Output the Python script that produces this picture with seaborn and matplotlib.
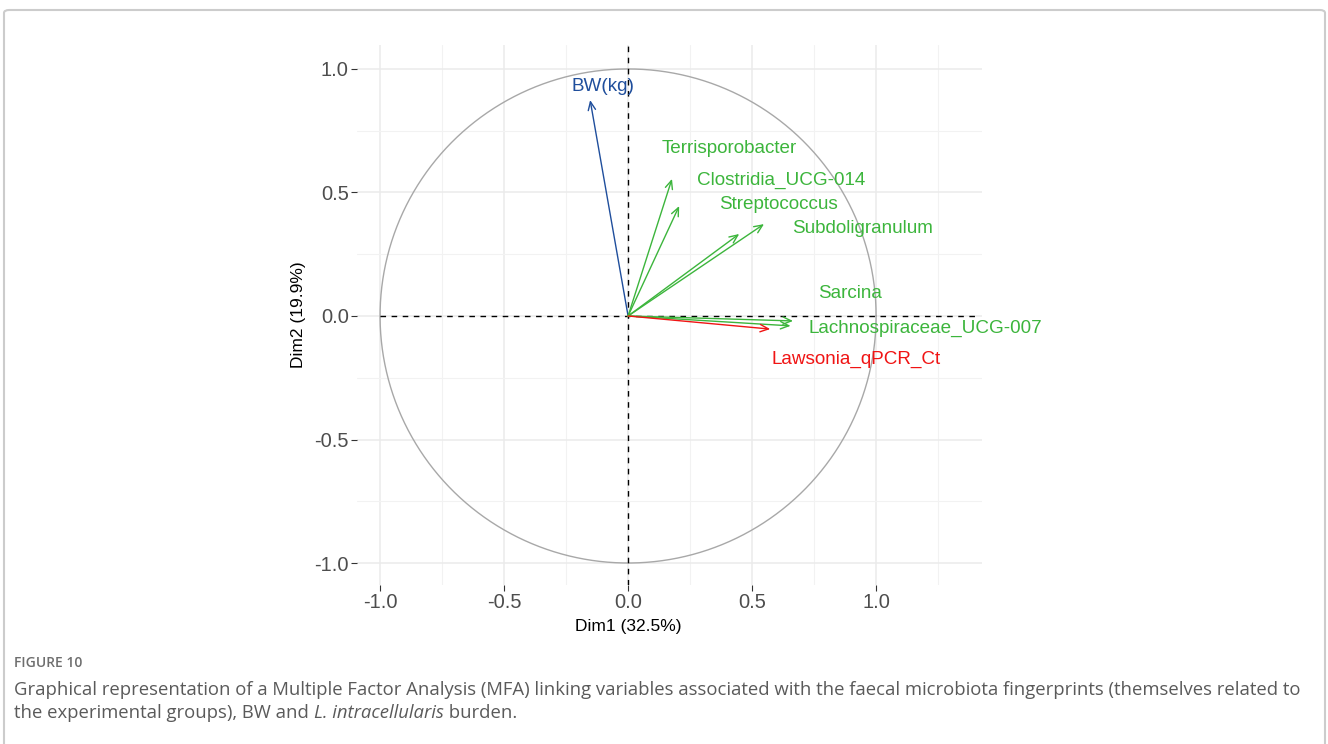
import numpy as np
import matplotlib
matplotlib.use("Agg")
import matplotlib.pyplot as plt
import seaborn as sns
from matplotlib.patches import FancyBboxPatch

# ---- data (MFA variable coordinates) ----
variables = ["BW(kg)", "Terrisporobacter", "Clostridia_UCG-014", "Streptococcus",
             "Subdoligranulum", "Sarcina", "Lachnospiraceae_UCG-007", "Lawsonia_qPCR_Ct"]
dim1 = [-0.153, 0.177, 0.206, 0.448, 0.548, 0.665, 0.655, 0.573]
dim2 = [0.874, 0.555, 0.445, 0.332, 0.372, -0.020, -0.040, -0.053]
groups = ["BW", "Microbiota", "Microbiota", "Microbiota", "Microbiota",
          "Microbiota", "Microbiota", "Lawsonia"]
dim1_label = "Dim1 (32.5%)"
dim2_label = "Dim2 (19.9%)"
x_ticks = [-1.0, -0.5, 0.0, 0.5, 1.0]
y_ticks = [-1.0, -0.5, 0.0, 0.5, 1.0]

# ---- styling ----
palette = {"BW": "#1f4e9c", "Microbiota": "#3cb53c", "Lawsonia": "#f01414"}
# label offsets (points) from arrow tips, mimicking repelled labels
label_offsets = [(9, 10), (41, 22), (73.5, 18.5), (28, 21.5), (71, -3), (41, 20), (97, -2), (62, -22)]

sns.set_theme(style="whitegrid")
plt.rcParams["font.family"] = ["Liberation Sans", "DejaVu Sans"]

W, H = 1328, 744
fig = plt.figure(figsize=(W / 100, H / 100), dpi=100)

# panel placement in pixels
px_l, px_r, px_t, px_b = 357, 982, 45, 585
ax = fig.add_axes([px_l / W, 1 - px_b / H, (px_r - px_l) / W, (px_b - px_t) / H])
ax.set_xlim(-1.093, 1.427)
ax.set_ylim(-1.089, 1.097)

ax.set_facecolor("white")
for s in ax.spines.values():
    s.set_visible(False)

ax.set_xticks(x_ticks)
ax.set_yticks(y_ticks)
ax.set_xticks([-0.75, -0.25, 0.25, 0.75, 1.25], minor=True)
ax.set_yticks([-0.75, -0.25, 0.25, 0.75], minor=True)
ax.grid(which="major", color="#ebebeb", linewidth=1.1)
ax.grid(which="minor", color="#f2f2f2", linewidth=0.8)
ax.tick_params(axis="both", which="major", length=4, width=0.8, color="#333333",
               labelsize=14.5, labelcolor="#4d4d4d", pad=2, direction="out",
               bottom=True, left=True)
ax.tick_params(axis="both", which="minor", length=0)
ax.xaxis.set_major_formatter(matplotlib.ticker.FormatStrFormatter("%.1f"))
ax.yaxis.set_major_formatter(matplotlib.ticker.FormatStrFormatter("%.1f"))

ax.set_xlabel(dim1_label, fontsize=12.5, color="black")
ax.set_ylabel(dim2_label, fontsize=12.5, color="black")
ax.xaxis.set_label_coords((628 - px_l) / (px_r - px_l), -(627 - px_b) / (px_b - px_t))
ax.yaxis.set_label_coords(-(px_l - 298) / (px_r - px_l), 0.5)
ax.xaxis.label.set_va("center")
ax.yaxis.label.set_va("center")

# correlation circle
theta = np.linspace(0, 2 * np.pi, 400)
sns.lineplot(x=np.cos(theta), y=np.sin(theta), sort=False, color="#a8a8a8",
             linewidth=1.0, ax=ax, estimator=None)

# reference lines
ax.plot([-1.0, 1.41], [0, 0], linestyle=(0, (4, 4)), color="black", linewidth=1.0, zorder=2)
ax.axvline(0, linestyle=(0, (4, 4)), color="black", linewidth=1.0, zorder=2)

# arrows and labels
for name, x, y, g, off in zip(variables, dim1, dim2, groups, label_offsets):
    c = palette[g]
    ax.annotate("", xy=(x, y), xytext=(0, 0),
                arrowprops=dict(arrowstyle="->,head_length=0.5,head_width=0.22",
                                color=c, lw=1.0, shrinkA=0, shrinkB=0), zorder=3)
    ax.annotate(name, xy=(x, y), xytext=off, textcoords="offset points",
                ha="center", va="center", fontsize=13.6, color=c, zorder=4)

# figure border
border = FancyBboxPatch((4 / W, -0.05), (W - 7) / W, 1 - 10 / H + 0.05,
                        boxstyle="round,pad=0,rounding_size=0.004",
                        transform=fig.transFigure, fill=False,
                        edgecolor="#cccccc", linewidth=1.5)
fig.patches.append(border)

# caption
cap_font = ["Open Sans", "DejaVu Sans"]
fig.text(14 / W, 1 - 663 / H, "FIGURE 10", fontsize=10, fontweight="semibold",
         color="#6e6e6e", family=cap_font, va="center", ha="left")
fig.text(14 / W, 1 - 690 / H,
         "Graphical representation of a Multiple Factor Analysis (MFA) linking variables associated with the faecal microbiota fingerprints (themselves related to",
         fontsize=13.3, color="#5a5a5a", family=cap_font, va="center", ha="left")

renderer = fig.canvas.get_renderer()
x0 = 14
parts = [("the experimental groups), BW and ", "normal"),
         ("L. intracellularis", "italic"),
         (" burden.", "normal")]
for txt, style in parts:
    t = fig.text(x0 / W, 1 - 713 / H, txt, fontsize=13.3, color="#5a5a5a",
                 family=cap_font, style=style, va="center", ha="left")
    bb = t.get_window_extent(renderer=renderer)
    x0 += bb.width

fig.savefig("out.png", dpi=100)
